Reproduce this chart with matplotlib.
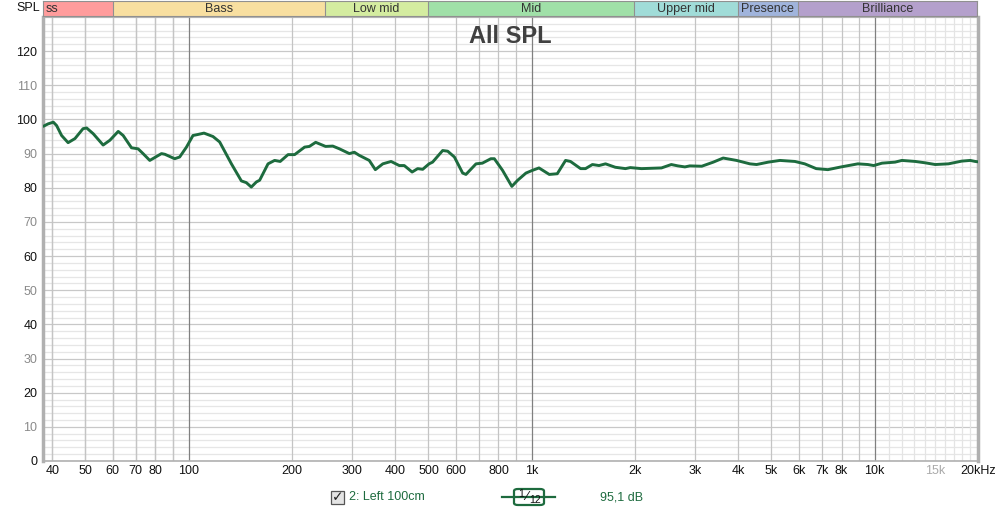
import matplotlib.pyplot as plt
import numpy as np
from matplotlib.patches import FancyBboxPatch, Rectangle

plt.rcParams['font.family'] = ['Liberation Sans', 'DejaVu Sans']

# measured response (Hz, dB SPL)
freq = [37.7, 38.9, 40.3, 41.2, 42.6, 44.5, 46.6, 49.2, 50.4, 52.7, 56.3, 58.9,
        62.3, 64.4, 68.1, 71.2, 73.6, 77.0, 83.3, 85.2, 91.0, 94.1, 98.5,
        102.9, 106.4, 110.8, 117.7, 123.1, 133.2, 142.4, 147.2, 152.2, 157.5,
        161, 170.3, 178, 184.8, 194.8, 203.6, 217.7, 224.8, 234.5, 250.6, 263,
        275, 294, 304, 314, 336, 350, 368, 389, 411, 425, 448, 465, 481, 502, 514,
        550, 569, 595, 629, 643, 688, 718, 760, 778, 822, 875, 910, 962,
        1005, 1050, 1125, 1187, 1255, 1297, 1388, 1435, 1503, 1571, 1641,
        1752, 1876, 1938, 2090, 2389, 2552, 2668, 2796, 2890, 3131, 3383,
        3615, 3955, 4325, 4524, 4893, 5292, 5850, 6250, 6750, 7300, 7980,
        8930, 9550, 9930, 10500, 11460, 12000, 13130, 14030, 15010, 16400,
        17940, 18990, 19630, 20000]
spl = [98.0, 98.7, 99.2, 98.2, 95.3, 93.2, 94.4, 97.3, 97.5, 95.8, 92.5, 93.9,
       96.5, 95.3, 91.7, 91.4, 90.0, 88.0, 90.0, 89.8, 88.5, 89.0, 91.9,
       95.3, 95.6, 96.0, 95.0, 93.4, 87.0, 82.0, 81.5, 80.2, 81.7,
       82.2, 87.0, 88.0, 87.7, 89.7, 89.7, 91.9, 92.1, 93.3, 92.1, 92.2,
       91.4, 90.0, 90.4, 89.5, 88.0, 85.3, 87.0, 87.7, 86.5, 86.5, 84.6, 85.6, 85.4, 87.0, 87.5,
       90.9, 90.7, 89.0, 84.3, 83.9, 87.0, 87.2, 88.5, 88.5, 85.1, 80.4, 82.2, 84.3,
       85.1, 85.8, 83.9, 84.1, 88.0, 87.7, 85.6, 85.6, 86.8, 86.5, 87.0,
       86.0, 85.6, 85.9, 85.6, 85.8, 86.8, 86.4, 86.1, 86.4, 86.3, 87.5,
       88.7, 88.0, 87.0, 86.8, 87.5, 88.0, 87.7, 87.0, 85.6, 85.3, 86.1,
       87.0, 86.8, 86.5, 87.2, 87.5, 88.0, 87.7, 87.3, 86.8, 87.0,
       87.8, 88.0, 87.7, 87.6]

# frequency bands across the top (first one is cut by the axis edge)
band_names = ['ss', 'Bass', 'Low mid', 'Mid', 'Upper mid', 'Presence', 'Brilliance']
band_edges = [20, 60, 250, 500, 2000, 4000, 6000, 20000]
band_colors = ['#ff9c9c', '#f8dfa0', '#d4eca0', '#a0e0a8', '#a0dcd8', '#a0b4dc', '#b4a0cc']

xtick_vals = [40, 50, 60, 70, 80, 100, 200, 300, 400, 500, 600, 800,
              1000, 2000, 3000, 4000, 5000, 6000, 7000, 8000, 10000, 15000, 20000]
xtick_text = ['40', '50', '60', '70', '80', '100', '200', '300', '400', '500', '600', '800',
              '1k', '2k', '3k', '4k', '5k', '6k', '7k', '8k', '10k', '15k', '20kHz']

green = '#1d6b3e'
fmin, fmax = 37.6, 20000

fig = plt.figure(figsize=(10, 5.13), dpi=100)
ax = fig.add_axes([0.043, 0.1014, 0.935, 0.8655])
ax.set_xscale('log')
ax.set_xlim(fmin, fmax)
ax.set_ylim(0, 130)

# grid
for v in np.arange(0, 131, 2):
    ax.axhline(v, color='#c8c8c8' if v % 10 == 0 else '#e6e6e6', lw=0.9, zorder=0)
grid_f = [f * m for m in (10, 100, 1000) for f in range(2, 10)] + [40, 50, 60, 70, 80, 90]
for f in grid_f:
    if fmin <= f <= fmax:
        ax.axvline(f, color='#c4c4c4', lw=0.9, zorder=0)
for f in range(11000, 20000, 1000):
    ax.axvline(f, color='#e4e4e4', lw=0.9, zorder=0)
for f in (100, 1000, 10000):
    ax.axvline(f, color='#808080', lw=0.9, zorder=0)

ax.plot(freq, spl, color=green, lw=2.1, zorder=3,
        solid_joinstyle='round', solid_capstyle='round')

ax.set_xticks(xtick_vals)
ax.set_xticklabels(xtick_text)
ax.xaxis.set_minor_locator(plt.NullLocator())
ax.set_yticks(range(0, 121, 10))
ax.tick_params(length=0, labelsize=9)
ax.tick_params(axis='y', pad=4)
ax.tick_params(axis='x', pad=3)
for lab, v in zip(ax.get_yticklabels(), range(0, 121, 10)):
    lab.set_color('#8a8a8a' if v % 20 else '#111111')
for lab, t in zip(ax.get_xticklabels(), xtick_text):
    lab.set_color('#aaaaaa' if t == '15k' else '#111111')

for s in ax.spines.values():
    s.set_color('#b0b0b0')
    s.set_linewidth(1.2)
ax.spines['left'].set_linewidth(2.5)
ax.spines['right'].set_linewidth(2.5)

ax.text(0.5, 0.955, 'All SPL', transform=ax.transAxes, ha='center', va='center',
        fontsize=17, fontweight='bold', color='#404040')

fig.text(0.016, 0.984, 'SPL', fontsize=9, va='center', ha='left', color='#111111')

# band strip
bx = fig.add_axes([0.043, 0.9688, 0.934, 0.0292])
bx.set_xscale('log')
bx.set_xlim(fmin, fmax)
bx.set_ylim(0, 1)
for name, lo, hi, c in zip(band_names, band_edges[:-1], band_edges[1:], band_colors):
    bx.axvspan(lo, hi, color=c, lw=0)
    bx.axvline(hi, color='#909090', lw=0.8)
    xc = 38.2 if name == 'ss' else np.sqrt(lo * hi)
    bx.text(xc, 0.45, name, ha='left' if name == 'ss' else 'center', va='center',
            fontsize=9, color='#333333', clip_on=True)
bx.set_xticks([])
bx.set_yticks([])
bx.xaxis.set_minor_locator(plt.NullLocator())
for s in bx.spines.values():
    s.set_color('#909090')
    s.set_linewidth(0.8)

# legend row
H = 513.0
yl = 1 - 497 / H
fig.patches.append(Rectangle((331 / 1000, 1 - 504 / H), 13 / 1000, 13 / H,
                             transform=fig.transFigure, facecolor='#e4e4e4',
                             edgecolor='#555555', lw=0.9))
fig.text(337.5 / 1000, yl, '✓', ha='center', va='center', fontsize=10,
         family='DejaVu Sans', fontweight='bold', color='#222222')
fig.text(349 / 1000, yl, '2: Left 100cm', ha='left', va='center', fontsize=9, color=green)
fig.lines.append(plt.Line2D([502 / 1000, 555 / 1000], [yl, yl], transform=fig.transFigure,
                            color=green, lw=1.6))
fig.patches.append(FancyBboxPatch((514 / 1000, 1 - 505 / H), 30 / 1000, 16 / H,
                                  boxstyle='round,pad=0,rounding_size=0.004',
                                  transform=fig.transFigure, facecolor='white',
                                  edgecolor=green, lw=1.6))
fig.text(521.5 / 1000, 1 - 494 / H, '1', ha='center', va='center', fontsize=7.5, color='#111111')
fig.text(526 / 1000, yl, '⁄', ha='center', va='center', fontsize=9,
         family='DejaVu Sans', color='#111111')
fig.text(535 / 1000, 1 - 500 / H, '12', ha='center', va='center', fontsize=7.5, color='#111111')
fig.text(600 / 1000, yl, '95,1 dB', ha='left', va='center', fontsize=9, color=green)

fig.savefig('out.png', dpi=100, facecolor='white')
